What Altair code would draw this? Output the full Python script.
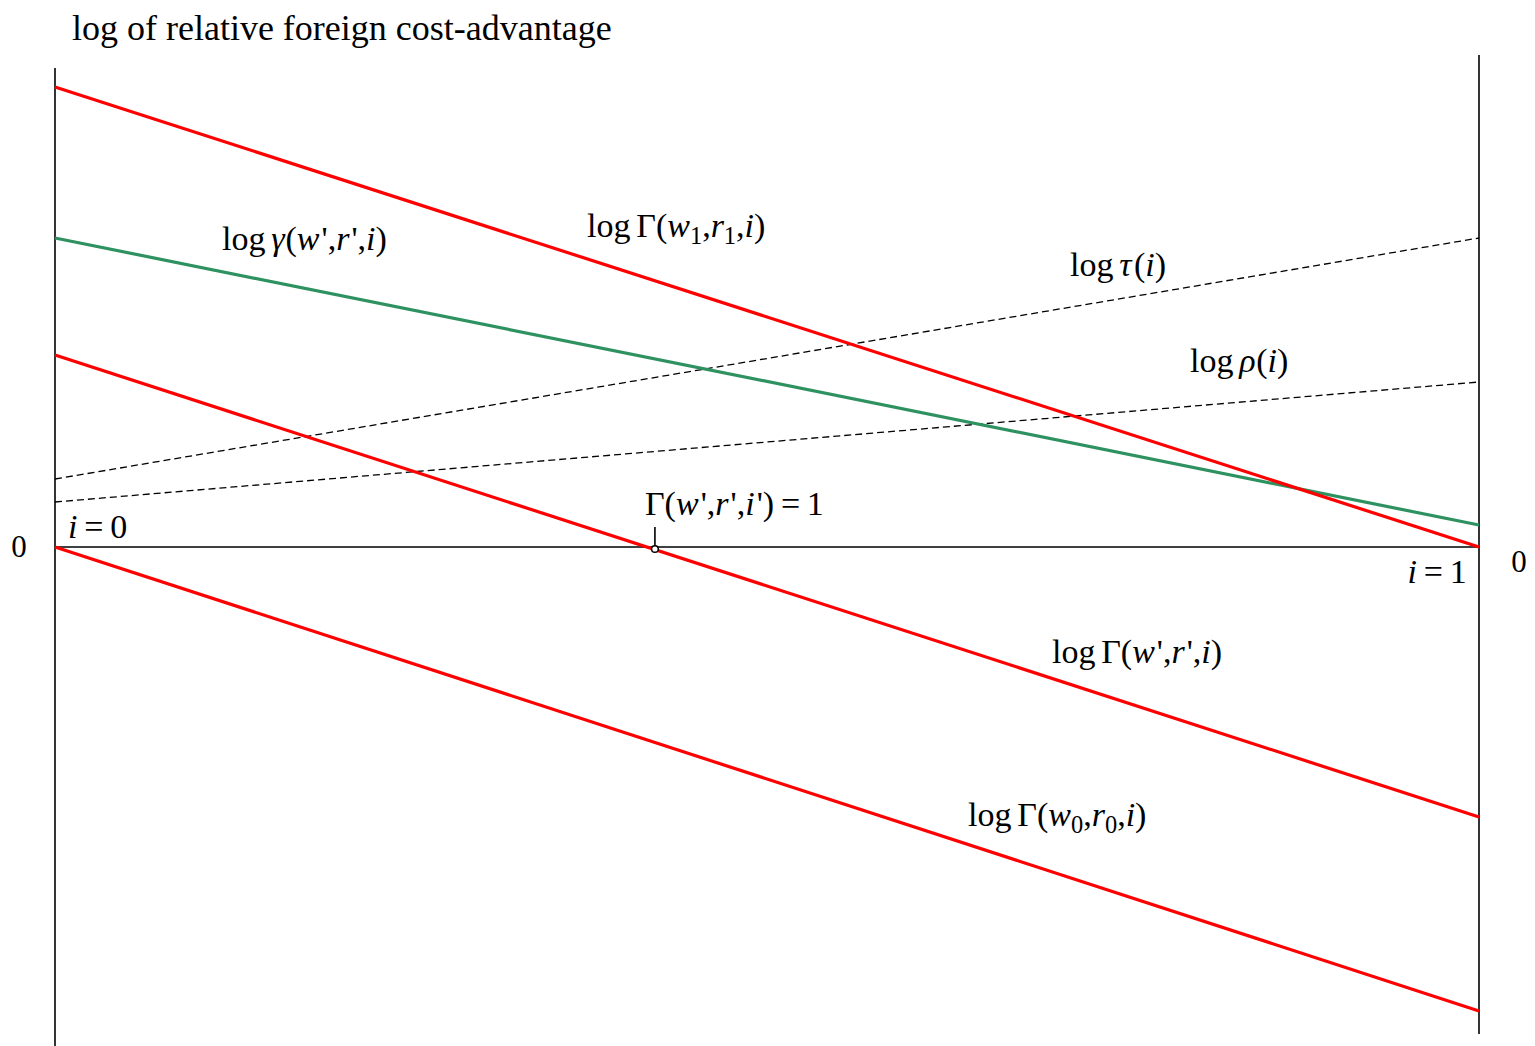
import altair as alt
import pandas as pd

# ---- data (x = i in [0,1], y = log value in arbitrary units) ----
series_names = ["G1", "gamma", "Gp", "G0", "tau", "rho"]
start_vals = [4.60, 3.09, 1.92, 0.00, 0.68, 0.45]
end_vals = [0.00, 0.22, -2.70, -4.64, 3.09, 1.65]
styles = ["red", "green", "red", "red", "dash", "dash"]

# labels: pieces of (text, kind) with kind r=roman, i=italic, s=subscript, g=gap(em)
label_pieces = [
    [("log", "r"), (0.17, "g"), ("Γ", "r"), ("(", "r"), ("w", "i"), ("1", "s"), (",", "r"),
     ("r", "i"), ("1", "s"), (",", "r"), ("i", "i"), (")", "r")],
    [("log", "r"), (0.17, "g"), ("γ", "i"), ("(", "r"), ("w", "i"), (0.06, "g"), ("'", "r"), (",", "r"),
     ("r", "i"), (0.06, "g"), ("'", "r"), (",", "r"), ("i", "i"), (")", "r")],
    [("log", "r"), (0.17, "g"), ("Γ", "r"), ("(", "r"), ("w", "i"), (0.06, "g"), ("'", "r"), (",", "r"),
     ("r", "i"), (0.06, "g"), ("'", "r"), (",", "r"), ("i", "i"), (")", "r")],
    [("log", "r"), (0.17, "g"), ("Γ", "r"), ("(", "r"), ("w", "i"), ("0", "s"), (",", "r"),
     ("r", "i"), ("0", "s"), (",", "r"), ("i", "i"), (")", "r")],
    [("log", "r"), (0.17, "g"), ("τ", "i"), ("(", "r"), ("i", "i"), (")", "r")],
    [("log", "r"), (0.17, "g"), ("ρ", "i"), ("(", "r"), ("i", "i"), (")", "r")],
    [("Γ", "r"), ("(", "r"), ("w", "i"), (0.06, "g"), ("'", "r"), (",", "r"), ("r", "i"), (0.06, "g"),
     ("'", "r"), (",", "r"), ("i", "i"), (0.06, "g"), ("'", "r"), (")", "r"), (0.2, "g"), ("=", "r"),
     (0.2, "g"), ("1", "r")],
    [("i", "i"), (0.2, "g"), ("=", "r"), (0.2, "g"), ("0", "r")],
    [("i", "i"), (0.2, "g"), ("=", "r"), (0.2, "g"), ("1", "r")],
]
# label anchor: left edge (fraction of i) and baseline (value units)
label_x = [0.3736, 0.1173, 0.7001, 0.6412, 0.7128, 0.7971, 0.4143, 0.0091, 0.9498]
label_y = [3.10, 2.97, -1.16, -2.79, 2.71, 1.75, 0.32, 0.09, -0.36]

zero_labels = ["0", "0"]
zero_x = [-0.0253, 1.0281]
zero_y = [-0.10, -0.25]

i_prime = 0.4213
title_text = "log of relative foreign cost-advantage"

# ---- typography helpers (Times metrics, em units) ----
FS = 34
SUB = 0.72
ROMAN_W = {"l": 0.278, "o": 0.5, "g": 0.5, "Γ": 0.578, "(": 0.333, ")": 0.333, ",": 0.25,
           "'": 0.18, "=": 0.564, "0": 0.5, "1": 0.5}
ITAL_W = {"w": 0.667, "r": 0.389, "i": 0.278, "γ": 0.42, "τ": 0.43, "ρ": 0.5}
PX_PER_X = 1424.0
PX_PER_Y = 100.0

rows_r, rows_i, rows_s = [], [], []
for pieces, lx, ly in zip(label_pieces, label_x, label_y):
    off = 0.0
    for txt, kind in pieces:
        if kind == "g":
            off += txt * FS
            continue
        xd = lx + off / PX_PER_X
        if kind == "r":
            rows_r.append({"t": txt, "x": xd, "y": ly})
            off += sum(ROMAN_W[c] for c in txt) * FS
        elif kind == "i":
            rows_i.append({"t": txt, "x": xd, "y": ly})
            off += sum(ITAL_W[c] for c in txt) * FS
        else:
            rows_s.append({"t": txt, "x": xd, "y": ly - 0.2 * FS / PX_PER_Y})
            off += sum(ROMAN_W[c] for c in txt) * FS * SUB

# ---- scales (fixed domains) ----
xs = alt.Scale(domain=[-0.033006, 1.033708], nice=False, zero=False)
ys = alt.Scale(domain=[-4.99, 5.39], nice=False, zero=False)

rows = []
for n, a, b, s in zip(series_names, start_vals, end_vals, styles):
    rows.append({"s": n, "i": 0.0, "v": a, "style": s})
    rows.append({"s": n, "i": 1.0, "v": b, "style": s})
lines = pd.DataFrame(rows)

X = alt.X("i:Q", scale=xs, axis=None)
Y = alt.Y("v:Q", scale=ys, axis=None)
PX = alt.X("x:Q", scale=xs, axis=None)
PY = alt.Y("y:Q", scale=ys, axis=None)

red = alt.Chart(lines[lines["style"] == "red"]).mark_line(
    color="#ff0000", strokeWidth=3.2).encode(x=X, y=Y, detail="s:N")
green = alt.Chart(lines[lines["style"] == "green"]).mark_line(
    color="#2e9160", strokeWidth=3.2).encode(x=X, y=Y, detail="s:N")
dash = alt.Chart(lines[lines["style"] == "dash"]).mark_line(
    color="black", strokeWidth=1.3, strokeDash=[7, 4]).encode(x=X, y=Y, detail="s:N")

frame = pd.DataFrame({
    "x": [0.0, 1.0, 0.0, i_prime],
    "x2": [0.0, 1.0, 1.0, i_prime],
    "y": [4.79, 4.92, 0.0, 0.0],
    "y2": [-4.99, -4.87, 0.0, 0.20],
})
rules = alt.Chart(frame).mark_rule(color="black", strokeWidth=1.6).encode(
    x=PX, x2="x2:Q", y=PY, y2="y2:Q")

pt = alt.Chart(pd.DataFrame({"x": [i_prime], "y": [-0.02]})).mark_point(
    shape="circle", size=45, filled=True, fill="white", stroke="black",
    strokeWidth=1.5, opacity=1).encode(x=PX, y=PY)

txt_r = alt.Chart(pd.DataFrame(rows_r)).mark_text(
    font="Liberation Serif", fontSize=FS, align="left", baseline="alphabetic", color="black"
).encode(x=PX, y=PY, text="t:N")
txt_i = alt.Chart(pd.DataFrame(rows_i)).mark_text(
    font="Liberation Serif", fontSize=FS, fontStyle="italic", align="left",
    baseline="alphabetic", color="black"
).encode(x=PX, y=PY, text="t:N")
txt_s = alt.Chart(pd.DataFrame(rows_s)).mark_text(
    font="Liberation Serif", fontSize=FS * SUB, align="left", baseline="alphabetic", color="black"
).encode(x=PX, y=PY, text="t:N")

zeros = alt.Chart(pd.DataFrame({"t": zero_labels, "x": zero_x, "y": zero_y})).mark_text(
    font="Liberation Serif", fontSize=31, align="center", baseline="alphabetic", color="black"
).encode(x=PX, y=PY, text="t:N")

title = alt.Chart(pd.DataFrame({"t": [title_text], "x": [0.0119], "y": [5.07]})).mark_text(
    font="Liberation Serif", fontSize=36, align="left", baseline="alphabetic", color="black"
).encode(x=PX, y=PY, text="t:N")

chart = alt.layer(rules, dash, green, red, pt, txt_r, txt_i, txt_s, zeros, title).properties(
    width=1519, height=1038, padding=0, autosize=alt.AutoSizeParams(type="none")
).configure(background="white").configure_view(stroke=None)

chart.save("out.html", embed_options={"renderer": "svg", "actions": False})
